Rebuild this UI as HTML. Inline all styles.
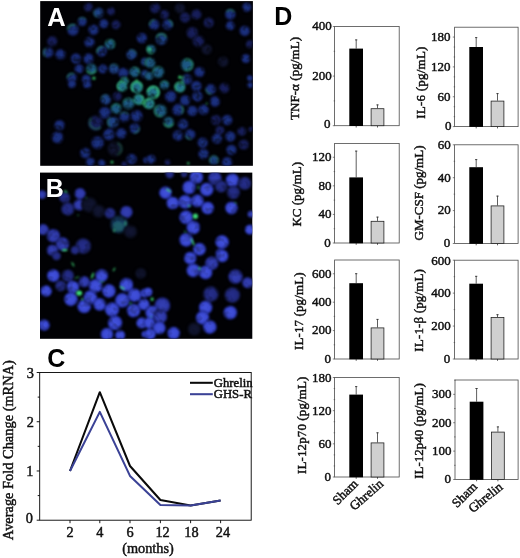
<!DOCTYPE html>
<html><head><meta charset="utf-8"><title>Figure</title>
<style>
html,body{margin:0;padding:0;background:#fff}
svg{display:block}
.t{font-family:"Liberation Serif",serif;font-size:13px;fill:#111;stroke:#111;stroke-width:0.45px}
.c{font-family:"Liberation Serif",serif;font-size:14.3px;fill:#111;stroke:#111;stroke-width:0.45px}
.l{font-family:"Liberation Serif",serif;font-size:12.7px;fill:#111;stroke:#111;stroke-width:0.5px}
</style></head><body>
<svg width="520" height="558" viewBox="0 0 520 558">
<defs><radialGradient id="gb" cx="0.5" cy="0.5" r="0.5"><stop offset="0" stop-color="#1b3482"/><stop offset="0.6" stop-color="#192c78"/><stop offset="0.85" stop-color="#10194e"/><stop offset="1" stop-color="#03040f"/></radialGradient><radialGradient id="gB" cx="0.5" cy="0.5" r="0.5"><stop offset="0" stop-color="#4252dc"/><stop offset="0.7" stop-color="#3a48d0"/><stop offset="0.92" stop-color="#1e2890"/><stop offset="1" stop-color="#0a1040"/></radialGradient><radialGradient id="gD" cx="0.5" cy="0.5" r="0.5"><stop offset="0" stop-color="#262e8c"/><stop offset="0.7" stop-color="#20287c"/><stop offset="0.92" stop-color="#10143c"/><stop offset="1" stop-color="#04050f"/></radialGradient><radialGradient id="gM" cx="0.5" cy="0.5" r="0.5"><stop offset="0" stop-color="#3440b4"/><stop offset="0.7" stop-color="#2e38a8"/><stop offset="0.92" stop-color="#181e6a"/><stop offset="1" stop-color="#060824"/></radialGradient><radialGradient id="gd" cx="0.5" cy="0.5" r="0.5"><stop offset="0" stop-color="#182060"/><stop offset="0.7" stop-color="#141a50"/><stop offset="1" stop-color="#04060f"/></radialGradient><radialGradient id="gv" cx="0.5" cy="0.5" r="0.5"><stop offset="0" stop-color="#121634"/><stop offset="0.7" stop-color="#0e122a"/><stop offset="1" stop-color="#03040a"/></radialGradient><radialGradient id="gt" cx="0.5" cy="0.5" r="0.5"><stop offset="0" stop-color="#1e5686"/><stop offset="0.6" stop-color="#1c5880"/><stop offset="0.85" stop-color="#103848"/><stop offset="1" stop-color="#030c10"/></radialGradient><radialGradient id="gm" cx="0.5" cy="0.5" r="0.5"><stop offset="0" stop-color="#173e68"/><stop offset="0.65" stop-color="#15385e"/><stop offset="0.9" stop-color="#0c2038"/><stop offset="1" stop-color="#04081a"/></radialGradient><radialGradient id="gbt" cx="0.5" cy="0.5" r="0.5"><stop offset="0" stop-color="#1e4488"/><stop offset="0.6" stop-color="#1c3e80"/><stop offset="0.85" stop-color="#101e4c"/><stop offset="1" stop-color="#03050f"/></radialGradient><radialGradient id="gT" cx="0.5" cy="0.5" r="0.5"><stop offset="0" stop-color="#226c90"/><stop offset="0.55" stop-color="#237688"/><stop offset="0.82" stop-color="#26887e"/><stop offset="1" stop-color="#041810"/></radialGradient><filter id="bl" x="0" y="0" width="100%" height="100%" color-interpolation-filters="sRGB"><feGaussianBlur stdDeviation="0.9" result="b"/><feTurbulence type="fractalNoise" baseFrequency="0.16" numOctaves="2" seed="7" result="n"/><feColorMatrix in="n" type="matrix" values="1.3 0 0 0 0.28  1.3 0 0 0 0.28  1.3 0 0 0 0.28  0 0 0 0 1" result="m"/><feComposite in="b" in2="m" operator="arithmetic" k1="1" k2="0" k3="0" k4="0"/></filter><filter id="blB" x="0" y="0" width="100%" height="100%" color-interpolation-filters="sRGB"><feGaussianBlur stdDeviation="1.0" result="b"/><feTurbulence type="fractalNoise" baseFrequency="0.13" numOctaves="2" seed="11" result="n"/><feColorMatrix in="n" type="matrix" values="0.8 0 0 0 0.58  0.8 0 0 0 0.58  0.8 0 0 0 0.58  0 0 0 0 1" result="m"/><feComposite in="b" in2="m" operator="arithmetic" k1="1" k2="0" k3="0" k4="0"/></filter><filter id="bg" x="-5%" y="-5%" width="110%" height="110%"><feGaussianBlur stdDeviation="0.8"/></filter><clipPath id="cA"><rect x="40.2" y="1.1" width="212.7" height="164.7"/></clipPath><clipPath id="cB"><rect x="40" y="172.6" width="212.3" height="166.2"/></clipPath></defs>
<rect width="520" height="558" fill="#fff"/>
<rect x="40.2" y="1.1" width="212.7" height="164.7" fill="#010104"/>
<g clip-path="url(#cA)"><g filter="url(#bl)"><circle cx="88.4" cy="7.2" r="5.2" fill="url(#gd)"/><circle cx="98.6" cy="12.8" r="5.9" fill="url(#gbt)"/><circle cx="82.2" cy="21.6" r="5.2" fill="url(#gb)"/><circle cx="72.9" cy="29.8" r="6.6" fill="url(#gb)"/><circle cx="93.5" cy="29.8" r="5.9" fill="url(#gb)"/><circle cx="103.8" cy="23.7" r="5.2" fill="url(#gb)"/><circle cx="116.1" cy="24.7" r="5.2" fill="url(#gd)"/><circle cx="111.0" cy="11.3" r="4.7" fill="url(#gd)"/><circle cx="52.3" cy="41.2" r="5.9" fill="url(#gd)"/><circle cx="48.2" cy="52.5" r="5.9" fill="url(#gb)"/><circle cx="60.6" cy="54.5" r="5.9" fill="url(#gb)"/><circle cx="89.4" cy="42.2" r="5.9" fill="url(#gb)"/><circle cx="110.0" cy="44.2" r="5.9" fill="url(#gt)"/><circle cx="101.7" cy="51.4" r="5.9" fill="url(#gb)"/><circle cx="76.0" cy="58.6" r="5.9" fill="url(#gb)"/><circle cx="88.4" cy="58.6" r="5.9" fill="url(#gb)"/><circle cx="131.6" cy="54.5" r="5.9" fill="url(#gbt)"/><circle cx="141.9" cy="38.1" r="5.9" fill="url(#gb)"/><circle cx="79.1" cy="68.9" r="5.2" fill="url(#gb)"/><circle cx="91.4" cy="68.9" r="5.9" fill="url(#gt)"/><circle cx="102.8" cy="68.9" r="5.2" fill="url(#gb)"/><circle cx="114.1" cy="68.9" r="5.9" fill="url(#gbt)"/><circle cx="71.9" cy="78.2" r="5.9" fill="url(#gb)"/><circle cx="86.3" cy="79.2" r="5.2" fill="url(#gb)"/><circle cx="123.3" cy="73.0" r="5.9" fill="url(#gb)"/><circle cx="134.7" cy="72.0" r="5.9" fill="url(#gt)"/><circle cx="144.9" cy="61.7" r="4.7" fill="url(#gbt)"/><circle cx="144.9" cy="74.1" r="4.7" fill="url(#gbt)"/><circle cx="124.4" cy="81.3" r="4.7" fill="url(#gt)"/><circle cx="155.2" cy="8.2" r="5.9" fill="url(#gd)"/><circle cx="164.5" cy="14.4" r="5.2" fill="url(#gd)"/><circle cx="154.2" cy="24.7" r="5.9" fill="url(#gb)"/><circle cx="167.6" cy="24.7" r="5.9" fill="url(#gb)"/><circle cx="161.4" cy="39.1" r="6.6" fill="url(#gbt)"/><circle cx="151.1" cy="49.4" r="5.2" fill="url(#gt)"/><circle cx="150.1" cy="62.8" r="5.9" fill="url(#gt)"/><circle cx="158.3" cy="72.0" r="6.6" fill="url(#gt)"/><circle cx="149.1" cy="76.1" r="4.7" fill="url(#gt)"/><circle cx="187.1" cy="64.8" r="7.1" fill="url(#gt)"/><circle cx="199.5" cy="72.0" r="5.9" fill="url(#gb)"/><circle cx="187.1" cy="79.2" r="5.9" fill="url(#gb)"/><circle cx="179.9" cy="8.2" r="5.9" fill="url(#gv)"/><circle cx="185.1" cy="17.5" r="5.9" fill="url(#gd)"/><circle cx="196.4" cy="14.4" r="5.9" fill="url(#gd)"/><circle cx="208.7" cy="22.6" r="5.9" fill="url(#gd)"/><circle cx="192.3" cy="32.9" r="6.6" fill="url(#gd)"/><circle cx="198.4" cy="41.2" r="6.6" fill="url(#gd)"/><circle cx="206.7" cy="49.4" r="5.9" fill="url(#gv)"/><circle cx="230.3" cy="14.4" r="5.9" fill="url(#gb)"/><circle cx="230.3" cy="25.7" r="5.2" fill="url(#gb)"/><circle cx="246.8" cy="7.2" r="5.2" fill="url(#gb)"/><circle cx="244.7" cy="30.9" r="5.9" fill="url(#gb)"/><circle cx="249.9" cy="44.2" r="4.7" fill="url(#gd)"/><circle cx="245.8" cy="58.6" r="5.2" fill="url(#gb)"/><circle cx="223.1" cy="61.7" r="5.9" fill="url(#gv)"/><circle cx="249.9" cy="78.2" r="3.5" fill="url(#gb)"/><circle cx="71.9" cy="84.0" r="4.7" fill="url(#gb)"/><circle cx="87.3" cy="84.6" r="4.7" fill="url(#gb)"/><circle cx="122.3" cy="86.1" r="5.9" fill="url(#gT)"/><circle cx="136.7" cy="87.1" r="6.6" fill="url(#gT)"/><circle cx="105.8" cy="99.5" r="5.9" fill="url(#gbt)"/><circle cx="117.2" cy="96.4" r="5.2" fill="url(#gd)"/><circle cx="128.5" cy="103.6" r="6.6" fill="url(#gt)"/><circle cx="138.8" cy="99.5" r="5.9" fill="url(#gT)"/><circle cx="146.0" cy="103.6" r="3.5" fill="url(#gT)"/><circle cx="116.1" cy="108.7" r="5.9" fill="url(#gt)"/><circle cx="104.8" cy="112.8" r="6.6" fill="url(#gb)"/><circle cx="124.4" cy="117.0" r="5.9" fill="url(#gb)"/><circle cx="136.7" cy="115.9" r="6.6" fill="url(#gb)"/><circle cx="95.6" cy="123.1" r="8.3" fill="url(#gd)"/><circle cx="113.0" cy="122.1" r="6.6" fill="url(#gbt)"/><circle cx="134.7" cy="128.3" r="5.9" fill="url(#gb)"/><circle cx="108.9" cy="134.4" r="6.6" fill="url(#gb)"/><circle cx="121.3" cy="133.4" r="5.9" fill="url(#gb)"/><circle cx="59.5" cy="125.2" r="5.9" fill="url(#gb)"/><circle cx="57.5" cy="137.5" r="6.6" fill="url(#gb)"/><circle cx="97.6" cy="142.7" r="7.1" fill="url(#gb)"/><circle cx="85.3" cy="153.0" r="5.9" fill="url(#gb)"/><circle cx="90.4" cy="162.2" r="5.2" fill="url(#gb)"/><circle cx="101.7" cy="163.2" r="4.3" fill="url(#gb)"/><circle cx="115.1" cy="148.8" r="8.3" fill="url(#gv)"/><circle cx="131.6" cy="159.1" r="5.9" fill="url(#gb)"/><circle cx="146.0" cy="160.2" r="3.5" fill="url(#gb)"/><circle cx="124.4" cy="164.3" r="3.5" fill="url(#gd)"/><circle cx="153.2" cy="92.3" r="7.1" fill="url(#gT)"/><circle cx="149.1" cy="103.6" r="5.9" fill="url(#gT)"/><circle cx="164.5" cy="85.1" r="5.2" fill="url(#gt)"/><circle cx="179.9" cy="87.1" r="5.9" fill="url(#gT)"/><circle cx="170.7" cy="96.4" r="6.6" fill="url(#gb)"/><circle cx="185.1" cy="100.5" r="5.9" fill="url(#gb)"/><circle cx="196.4" cy="86.1" r="5.9" fill="url(#gb)"/><circle cx="197.4" cy="96.4" r="5.9" fill="url(#gb)"/><circle cx="210.8" cy="89.2" r="5.9" fill="url(#gb)"/><circle cx="224.2" cy="88.1" r="5.9" fill="url(#gd)"/><circle cx="214.9" cy="101.5" r="5.9" fill="url(#gb)"/><circle cx="160.4" cy="110.8" r="7.1" fill="url(#gt)"/><circle cx="177.9" cy="109.7" r="6.6" fill="url(#gb)"/><circle cx="192.3" cy="110.8" r="5.9" fill="url(#gb)"/><circle cx="203.6" cy="109.7" r="5.9" fill="url(#gb)"/><circle cx="168.6" cy="122.1" r="5.9" fill="url(#gt)"/><circle cx="183.0" cy="124.2" r="5.9" fill="url(#gb)"/><circle cx="215.9" cy="120.0" r="5.9" fill="url(#gd)"/><circle cx="227.2" cy="120.0" r="5.9" fill="url(#gb)"/><circle cx="220.0" cy="130.3" r="5.2" fill="url(#gd)"/><circle cx="177.9" cy="135.5" r="5.9" fill="url(#gb)"/><circle cx="190.2" cy="134.4" r="5.9" fill="url(#gb)"/><circle cx="202.6" cy="142.7" r="5.9" fill="url(#gb)"/><circle cx="217.0" cy="138.6" r="5.9" fill="url(#gb)"/><circle cx="230.3" cy="136.5" r="5.9" fill="url(#gb)"/><circle cx="241.7" cy="131.4" r="5.2" fill="url(#gd)"/><circle cx="243.7" cy="144.7" r="5.9" fill="url(#gd)"/><circle cx="231.4" cy="149.9" r="5.9" fill="url(#gb)"/><circle cx="203.6" cy="154.0" r="5.9" fill="url(#gb)"/><circle cx="213.9" cy="160.2" r="5.2" fill="url(#gbt)"/><circle cx="227.2" cy="162.2" r="5.9" fill="url(#gb)"/><circle cx="151.1" cy="159.1" r="5.2" fill="url(#gb)"/><circle cx="167.6" cy="162.2" r="3.5" fill="url(#gd)"/><circle cx="249.9" cy="85.1" r="3.5" fill="url(#gb)"/><circle cx="250.9" cy="129.3" r="2.9" fill="url(#gd)"/></g><g filter="url(#bg)"><path d="M67.8 28.9A5.2 5.2 0 0 1 74.7 25.0" fill="none" stroke="#3fe07a" stroke-width="1.7" stroke-linecap="round" opacity="0.41"/><path d="M79.1 19.0A4.1 4.1 0 0 1 85.3 19.0" fill="none" stroke="#3fe07a" stroke-width="1.4" stroke-linecap="round" opacity="0.35"/><path d="M45.3 56.0A4.6 4.6 0 0 1 45.3 48.9" fill="none" stroke="#3fe07a" stroke-width="1.5" stroke-linecap="round" opacity="0.35"/><path d="M97.2 52.2A4.6 4.6 0 0 1 102.5 46.9" fill="none" stroke="#3fe07a" stroke-width="1.5" stroke-linecap="round" opacity="0.49"/><path d="M105.6 42.7A4.6 4.6 0 1 1 113.5 47.2" fill="none" stroke="#3fe07a" stroke-width="1.5" stroke-linecap="round" opacity="0.23"/><path d="M95.6 70.9A4.6 4.6 0 0 1 87.3 70.9" fill="none" stroke="#3fe07a" stroke-width="1.5" stroke-linecap="round" opacity="0.52"/><path d="M67.3 77.4A4.6 4.6 0 0 1 73.5 73.9" fill="none" stroke="#3fe07a" stroke-width="1.5" stroke-linecap="round" opacity="0.41"/><path d="M120.7 81.9A3.7 3.7 0 1 1 128.0 81.9" fill="none" stroke="#3fe07a" stroke-width="1.2" stroke-linecap="round" opacity="0.46"/><path d="M133.5 67.6A4.6 4.6 0 0 1 139.1 73.2" fill="none" stroke="#3fe07a" stroke-width="1.5" stroke-linecap="round" opacity="0.29"/><path d="M96.7 16.9A4.6 4.6 0 0 1 94.5 10.8" fill="none" stroke="#3fe07a" stroke-width="1.5" stroke-linecap="round" opacity="0.23"/><path d="M130.0 50.2A4.6 4.6 0 0 1 136.1 53.7" fill="none" stroke="#3fe07a" stroke-width="1.5" stroke-linecap="round" opacity="0.23"/><path d="M110.5 66.0A4.6 4.6 0 0 1 117.6 66.0" fill="none" stroke="#3fe07a" stroke-width="1.5" stroke-linecap="round" opacity="0.23"/><path d="M149.6 24.7A4.6 4.6 0 0 1 154.2 20.1" fill="none" stroke="#3fe07a" stroke-width="1.5" stroke-linecap="round" opacity="0.41"/><path d="M168.8 20.2A4.6 4.6 0 0 1 172.0 25.9" fill="none" stroke="#3fe07a" stroke-width="1.5" stroke-linecap="round" opacity="0.43"/><path d="M156.7 36.9A5.2 5.2 0 0 1 166.1 36.9" fill="none" stroke="#3fe07a" stroke-width="1.7" stroke-linecap="round" opacity="0.41"/><path d="M152.5 53.2A4.1 4.1 0 0 1 148.5 46.3" fill="none" stroke="#3fe07a" stroke-width="1.4" stroke-linecap="round" opacity="0.52"/><path d="M146.1 65.1A4.6 4.6 0 0 1 150.1 58.1" fill="none" stroke="#3fe07a" stroke-width="1.5" stroke-linecap="round" opacity="0.29"/><path d="M185.2 59.6A5.5 5.5 0 1 1 185.2 70.0" fill="none" stroke="#3fe07a" stroke-width="1.9" stroke-linecap="round" opacity="0.35"/><path d="M183.6 82.2A4.6 4.6 0 0 1 183.6 76.3" fill="none" stroke="#3fe07a" stroke-width="1.5" stroke-linecap="round" opacity="0.52"/><path d="M226.8 11.4A4.6 4.6 0 0 1 233.9 11.4" fill="none" stroke="#3fe07a" stroke-width="1.5" stroke-linecap="round" opacity="0.41"/><path d="M153.1 72.0A5.2 5.2 0 0 1 160.9 67.5" fill="none" stroke="#3fe07a" stroke-width="1.7" stroke-linecap="round" opacity="0.23"/><path d="M119.3 89.6A4.6 4.6 0 0 1 123.9 81.8" fill="none" stroke="#3fe07a" stroke-width="1.5" stroke-linecap="round" opacity="0.49"/><path d="M133.4 91.1A5.2 5.2 0 1 1 141.8 86.2" fill="none" stroke="#3fe07a" stroke-width="1.7" stroke-linecap="round" opacity="0.52"/><path d="M141.1 95.5A4.6 4.6 0 0 1 141.1 103.5" fill="none" stroke="#3fe07a" stroke-width="1.5" stroke-linecap="round" opacity="0.46"/><path d="M143.5 104.7A2.8 2.8 0 0 1 147.1 101.1" fill="none" stroke="#3fe07a" stroke-width="1.2" stroke-linecap="round" opacity="0.49"/><path d="M100.1 127.7A6.5 6.5 0 0 1 91.0 118.6" fill="none" stroke="#3fe07a" stroke-width="2.2" stroke-linecap="round" opacity="0.26"/><path d="M120.8 114.0A4.6 4.6 0 0 1 127.9 114.0" fill="none" stroke="#3fe07a" stroke-width="1.5" stroke-linecap="round" opacity="0.29"/><path d="M139.2 127.9A4.6 4.6 0 0 1 134.2 132.9" fill="none" stroke="#3fe07a" stroke-width="1.5" stroke-linecap="round" opacity="0.35"/><path d="M118.3 143.2A6.5 6.5 0 0 1 118.3 154.4" fill="none" stroke="#3fe07a" stroke-width="2.2" stroke-linecap="round" opacity="0.20"/><path d="M123.6 101.8A5.2 5.2 0 0 1 133.3 101.8" fill="none" stroke="#3fe07a" stroke-width="1.7" stroke-linecap="round" opacity="0.23"/><path d="M111.8 107.1A4.6 4.6 0 0 1 120.5 107.1" fill="none" stroke="#3fe07a" stroke-width="1.5" stroke-linecap="round" opacity="0.26"/><path d="M101.3 98.7A4.6 4.6 0 0 1 107.4 95.1" fill="none" stroke="#3fe07a" stroke-width="1.5" stroke-linecap="round" opacity="0.20"/><path d="M109.7 126.1A5.2 5.2 0 0 1 109.7 118.1" fill="none" stroke="#3fe07a" stroke-width="1.7" stroke-linecap="round" opacity="0.29"/><path d="M147.8 90.8A5.5 5.5 0 1 1 154.6 97.6" fill="none" stroke="#3fe07a" stroke-width="1.9" stroke-linecap="round" opacity="0.55"/><path d="M145.8 106.8A4.6 4.6 0 0 1 150.3 99.1" fill="none" stroke="#3fe07a" stroke-width="1.5" stroke-linecap="round" opacity="0.52"/><path d="M175.9 89.4A4.6 4.6 0 0 1 182.2 83.1" fill="none" stroke="#3fe07a" stroke-width="1.5" stroke-linecap="round" opacity="0.46"/><path d="M161.3 116.2A5.5 5.5 0 0 1 157.6 106.0" fill="none" stroke="#3fe07a" stroke-width="1.9" stroke-linecap="round" opacity="0.32"/><path d="M172.9 123.7A4.6 4.6 0 0 1 164.3 123.7" fill="none" stroke="#3fe07a" stroke-width="1.5" stroke-linecap="round" opacity="0.49"/><path d="M181.8 106.4A5.2 5.2 0 0 1 181.8 113.1" fill="none" stroke="#3fe07a" stroke-width="1.7" stroke-linecap="round" opacity="0.41"/><path d="M210.8 93.8A4.6 4.6 0 0 1 206.2 89.2" fill="none" stroke="#3fe07a" stroke-width="1.5" stroke-linecap="round" opacity="0.41"/><path d="M191.0 139.0A4.6 4.6 0 0 1 185.9 136.0" fill="none" stroke="#3fe07a" stroke-width="1.5" stroke-linecap="round" opacity="0.35"/><path d="M210.5 162.5A4.1 4.1 0 1 1 217.2 162.5" fill="none" stroke="#3fe07a" stroke-width="1.4" stroke-linecap="round" opacity="0.32"/><path d="M160.7 83.7A4.1 4.1 0 0 1 168.3 83.7" fill="none" stroke="#3fe07a" stroke-width="1.4" stroke-linecap="round" opacity="0.29"/><circle cx="93.9" cy="78.2" r="1.6" fill="#3fe07a" opacity="0.8"/><circle cx="136.7" cy="80.7" r="1.4" fill="#3fe07a" opacity="0.6"/><circle cx="179.9" cy="77.2" r="1.6" fill="#3fe07a" opacity="0.9"/><circle cx="150.1" cy="49.4" r="1.6" fill="#3fe07a" opacity="0.8"/><circle cx="112.0" cy="162.2" r="1.4" fill="#3fe07a" opacity="0.8"/><circle cx="188.2" cy="163.2" r="1.2" fill="#3fe07a" opacity="0.8"/><circle cx="206.7" cy="103.6" r="1.0" fill="#3fe07a" opacity="0.6"/></g></g>
<rect x="40" y="172.6" width="212.3" height="166.2" fill="#010104"/>
<g clip-path="url(#cB)"><g filter="url(#blB)"><circle cx="42.1" cy="194.6" r="4.8" fill="url(#gM)"/><circle cx="80.1" cy="193.6" r="6.0" fill="url(#gM)"/><circle cx="64.7" cy="197.7" r="6.0" fill="url(#gD)"/><circle cx="79.1" cy="204.9" r="6.0" fill="url(#gM)"/><circle cx="67.8" cy="209.0" r="7.2" fill="url(#gD)"/><circle cx="89.4" cy="204.9" r="8.4" fill="url(#gv)"/><circle cx="98.6" cy="211.1" r="7.2" fill="url(#gv)"/><circle cx="110.0" cy="213.2" r="6.0" fill="url(#gD)"/><circle cx="126.4" cy="212.1" r="6.7" fill="url(#gM)"/><circle cx="119.2" cy="224.5" r="9.5" fill="url(#gm)"/><circle cx="130.5" cy="231.7" r="7.2" fill="url(#gv)"/><circle cx="43.1" cy="229.6" r="6.0" fill="url(#gM)"/><circle cx="53.4" cy="235.8" r="7.2" fill="url(#gM)"/><circle cx="62.6" cy="244.0" r="7.2" fill="url(#gM)"/><circle cx="52.3" cy="250.2" r="6.0" fill="url(#gM)"/><circle cx="83.2" cy="246.1" r="8.4" fill="url(#gD)"/><circle cx="75.0" cy="250.2" r="4.8" fill="url(#gD)"/><circle cx="196.4" cy="177.1" r="7.2" fill="url(#gB)"/><circle cx="214.9" cy="178.2" r="7.2" fill="url(#gM)"/><circle cx="232.4" cy="180.2" r="7.2" fill="url(#gB)"/><circle cx="244.7" cy="183.3" r="7.2" fill="url(#gD)"/><circle cx="189.2" cy="187.4" r="7.2" fill="url(#gB)"/><circle cx="206.7" cy="189.5" r="7.2" fill="url(#gB)"/><circle cx="221.1" cy="186.4" r="6.7" fill="url(#gD)"/><circle cx="233.4" cy="192.6" r="7.2" fill="url(#gD)"/><circle cx="165.5" cy="192.6" r="6.7" fill="url(#gB)"/><circle cx="172.7" cy="202.9" r="6.7" fill="url(#gB)"/><circle cx="185.1" cy="201.8" r="7.2" fill="url(#gB)"/><circle cx="197.4" cy="200.8" r="6.7" fill="url(#gB)"/><circle cx="207.7" cy="208.0" r="6.7" fill="url(#gB)"/><circle cx="231.4" cy="208.0" r="6.7" fill="url(#gB)"/><circle cx="186.1" cy="217.3" r="7.2" fill="url(#gB)"/><circle cx="193.3" cy="227.6" r="7.2" fill="url(#gB)"/><circle cx="186.1" cy="239.9" r="7.2" fill="url(#gB)"/><circle cx="199.5" cy="249.2" r="6.7" fill="url(#gB)"/><circle cx="222.1" cy="242.0" r="7.2" fill="url(#gB)"/><circle cx="220.0" cy="253.3" r="4.8" fill="url(#gB)"/><circle cx="249.9" cy="229.6" r="5.3" fill="url(#gB)"/><circle cx="250.9" cy="214.2" r="3.6" fill="url(#gB)"/><circle cx="169.6" cy="174.1" r="4.8" fill="url(#gD)"/><circle cx="184.0" cy="174.1" r="3.6" fill="url(#gD)"/><circle cx="53.4" cy="275.6" r="6.7" fill="url(#gB)"/><circle cx="46.2" cy="291.0" r="6.0" fill="url(#gB)"/><circle cx="67.8" cy="275.6" r="6.7" fill="url(#gD)"/><circle cx="60.6" cy="285.9" r="6.0" fill="url(#gD)"/><circle cx="72.9" cy="286.9" r="6.7" fill="url(#gB)"/><circle cx="70.9" cy="299.2" r="7.2" fill="url(#gB)"/><circle cx="84.2" cy="306.4" r="7.2" fill="url(#gB)"/><circle cx="90.4" cy="297.2" r="7.2" fill="url(#gB)"/><circle cx="95.6" cy="285.9" r="7.2" fill="url(#gB)"/><circle cx="101.7" cy="275.6" r="6.7" fill="url(#gB)"/><circle cx="84.2" cy="281.7" r="6.0" fill="url(#gM)"/><circle cx="99.7" cy="304.4" r="6.7" fill="url(#gB)"/><circle cx="108.9" cy="291.0" r="7.2" fill="url(#gB)"/><circle cx="112.0" cy="309.5" r="7.6" fill="url(#gB)"/><circle cx="122.3" cy="300.3" r="7.6" fill="url(#gB)"/><circle cx="126.4" cy="284.8" r="7.2" fill="url(#gB)"/><circle cx="134.7" cy="295.1" r="7.2" fill="url(#gB)"/><circle cx="133.6" cy="310.6" r="7.2" fill="url(#gB)"/><circle cx="144.9" cy="293.1" r="4.8" fill="url(#gB)"/><circle cx="143.9" cy="304.4" r="6.0" fill="url(#gB)"/><circle cx="115.1" cy="322.9" r="7.6" fill="url(#gB)"/><circle cx="106.9" cy="334.2" r="6.7" fill="url(#gB)"/><circle cx="120.2" cy="335.2" r="5.3" fill="url(#gB)"/><circle cx="44.1" cy="325.0" r="6.0" fill="url(#gB)"/><circle cx="141.9" cy="322.9" r="6.0" fill="url(#gB)"/><circle cx="144.9" cy="334.2" r="3.6" fill="url(#gB)"/><circle cx="56.5" cy="256.0" r="4.8" fill="url(#gD)"/><circle cx="140.8" cy="273.5" r="6.0" fill="url(#gv)"/><circle cx="190.2" cy="258.1" r="6.7" fill="url(#gB)"/><circle cx="222.1" cy="256.0" r="6.7" fill="url(#gB)"/><circle cx="211.8" cy="263.2" r="7.2" fill="url(#gM)"/><circle cx="193.3" cy="270.4" r="7.2" fill="url(#gB)"/><circle cx="205.6" cy="272.5" r="7.2" fill="url(#gB)"/><circle cx="235.5" cy="276.6" r="7.6" fill="url(#gM)"/><circle cx="247.8" cy="282.8" r="6.0" fill="url(#gM)"/><circle cx="210.8" cy="294.1" r="8.4" fill="url(#gD)"/><circle cx="232.4" cy="295.1" r="8.4" fill="url(#gD)"/><circle cx="205.6" cy="307.5" r="7.2" fill="url(#gB)"/><circle cx="230.3" cy="312.6" r="7.2" fill="url(#gB)"/><circle cx="202.6" cy="317.8" r="7.2" fill="url(#gB)"/><circle cx="209.8" cy="327.0" r="7.2" fill="url(#gB)"/><circle cx="148.0" cy="292.0" r="4.8" fill="url(#gB)"/><circle cx="162.4" cy="305.4" r="8.4" fill="url(#gM)"/><circle cx="152.1" cy="312.6" r="7.2" fill="url(#gB)"/><circle cx="160.4" cy="316.7" r="7.2" fill="url(#gM)"/><circle cx="149.1" cy="322.9" r="6.0" fill="url(#gB)"/><circle cx="159.3" cy="328.0" r="6.7" fill="url(#gB)"/><circle cx="173.7" cy="333.2" r="6.7" fill="url(#gB)"/><circle cx="150.1" cy="334.2" r="6.0" fill="url(#gB)"/><circle cx="194.3" cy="329.1" r="7.2" fill="url(#gv)"/></g><g filter="url(#bg)"><ellipse cx="65.7" cy="191.5" rx="1.9" ry="0.9" transform="rotate(20 65.7 191.5)" fill="#3fe07a" opacity="0.9"/><ellipse cx="64.7" cy="250.2" rx="3.0" ry="1.1" transform="rotate(0 64.7 250.2)" fill="#3fe07a" opacity="0.9"/><ellipse cx="118.2" cy="226.5" rx="5.6" ry="5.2" transform="rotate(0 118.2 226.5)" fill="#3fe07a" opacity="0.18"/><ellipse cx="125.4" cy="223.4" rx="0.9" ry="2.6" transform="rotate(0 125.4 223.4)" fill="#3fe07a" opacity="0.6"/><ellipse cx="114.1" cy="230.6" rx="1.1" ry="1.9" transform="rotate(0 114.1 230.6)" fill="#3fe07a" opacity="0.5"/><ellipse cx="86.3" cy="197.7" rx="0.8" ry="0.8" transform="rotate(0 86.3 197.7)" fill="#3fe07a" opacity="0.6"/><ellipse cx="78.1" cy="215.2" rx="0.8" ry="0.8" transform="rotate(0 78.1 215.2)" fill="#3fe07a" opacity="0.6"/><ellipse cx="195.4" cy="216.2" rx="2.6" ry="2.6" transform="rotate(0 195.4 216.2)" fill="#3fe07a" opacity="0.95"/><ellipse cx="168.6" cy="190.5" rx="3.0" ry="0.9" transform="rotate(30 168.6 190.5)" fill="#3fe07a" opacity="0.9"/><ellipse cx="192.7" cy="242.0" rx="0.9" ry="4.1" transform="rotate(-25 192.7 242.0)" fill="#3fe07a" opacity="0.85"/><ellipse cx="198.4" cy="187.4" rx="0.9" ry="2.2" transform="rotate(0 198.4 187.4)" fill="#3fe07a" opacity="0.5"/><ellipse cx="189.2" cy="206.0" rx="1.9" ry="0.9" transform="rotate(0 189.2 206.0)" fill="#3fe07a" opacity="0.6"/><ellipse cx="235.5" cy="202.9" rx="1.5" ry="0.8" transform="rotate(30 235.5 202.9)" fill="#3fe07a" opacity="0.5"/><ellipse cx="185.1" cy="231.7" rx="1.5" ry="0.8" transform="rotate(40 185.1 231.7)" fill="#3fe07a" opacity="0.5"/><ellipse cx="79.1" cy="293.1" rx="3.0" ry="2.6" transform="rotate(0 79.1 293.1)" fill="#3fe07a" opacity="0.95"/><ellipse cx="82.2" cy="299.2" rx="1.1" ry="1.1" transform="rotate(0 82.2 299.2)" fill="#3fe07a" opacity="0.8"/><ellipse cx="92.5" cy="275.6" rx="1.1" ry="3.3" transform="rotate(20 92.5 275.6)" fill="#3fe07a" opacity="0.8"/><ellipse cx="122.3" cy="287.9" rx="3.0" ry="1.1" transform="rotate(30 122.3 287.9)" fill="#3fe07a" opacity="0.8"/><ellipse cx="72.9" cy="264.3" rx="0.9" ry="2.6" transform="rotate(-30 72.9 264.3)" fill="#3fe07a" opacity="0.7"/><ellipse cx="114.1" cy="269.4" rx="0.9" ry="2.2" transform="rotate(30 114.1 269.4)" fill="#3fe07a" opacity="0.7"/><ellipse cx="77.0" cy="277.6" rx="2.6" ry="0.8" transform="rotate(-20 77.0 277.6)" fill="#3fe07a" opacity="0.5"/><ellipse cx="101.7" cy="281.7" rx="2.6" ry="0.9" transform="rotate(0 101.7 281.7)" fill="#3fe07a" opacity="0.4"/><ellipse cx="130.5" cy="303.4" rx="1.5" ry="1.1" transform="rotate(0 130.5 303.4)" fill="#3fe07a" opacity="0.5"/><ellipse cx="152.1" cy="299.2" rx="1.5" ry="1.9" transform="rotate(0 152.1 299.2)" fill="#3fe07a" opacity="0.8"/><ellipse cx="199.5" cy="268.4" rx="1.1" ry="1.9" transform="rotate(0 199.5 268.4)" fill="#3fe07a" opacity="0.7"/><ellipse cx="151.1" cy="316.7" rx="0.9" ry="1.5" transform="rotate(0 151.1 316.7)" fill="#3fe07a" opacity="0.4"/></g></g>
<text x="47.2" y="25.9" style="font-family:'Liberation Sans',sans-serif;font-weight:bold;font-size:25.5px" fill="#fff">A</text>
<text x="45.7" y="196.7" style="font-family:'Liberation Sans',sans-serif;font-weight:bold;font-size:25px" fill="#fff">B</text>
<text x="47.2" y="367" style="font-family:'Liberation Sans',sans-serif;font-weight:bold;font-size:25px" fill="#000">C</text>
<text x="274.2" y="25.4" style="font-family:'Liberation Sans',sans-serif;font-weight:bold;font-size:25px" fill="#000">D</text>
<rect x="39.7" y="372.5" width="211.5" height="147.70000000000005" fill="#fff" stroke="#000" stroke-width="0.9"/>
<line x1="36.7" y1="520.20" x2="39.7" y2="520.20" stroke="#000" stroke-width="0.9"/>
<line x1="37.7" y1="495.58" x2="39.7" y2="495.58" stroke="#000" stroke-width="0.9"/>
<line x1="36.7" y1="470.97" x2="39.7" y2="470.97" stroke="#000" stroke-width="0.9"/>
<line x1="37.7" y1="446.35" x2="39.7" y2="446.35" stroke="#000" stroke-width="0.9"/>
<line x1="36.7" y1="421.73" x2="39.7" y2="421.73" stroke="#000" stroke-width="0.9"/>
<line x1="37.7" y1="397.12" x2="39.7" y2="397.12" stroke="#000" stroke-width="0.9"/>
<line x1="36.7" y1="372.50" x2="39.7" y2="372.50" stroke="#000" stroke-width="0.9"/>
<text x="33.0" y="523.4" text-anchor="end" class="c">0</text>
<text x="33.4" y="476.0" text-anchor="end" class="c">1</text>
<text x="34.0" y="426.7" text-anchor="end" class="c">2</text>
<text x="34.0" y="377.5" text-anchor="end" class="c">3</text>
<line x1="70" y1="520.2" x2="70" y2="523.2" stroke="#000" stroke-width="0.9"/>
<text x="70" y="537.4" text-anchor="middle" class="c">2</text>
<line x1="99.8" y1="520.2" x2="99.8" y2="523.2" stroke="#000" stroke-width="0.9"/>
<text x="99.8" y="537.4" text-anchor="middle" class="c">4</text>
<line x1="130" y1="520.2" x2="130" y2="523.2" stroke="#000" stroke-width="0.9"/>
<text x="130" y="537.4" text-anchor="middle" class="c">6</text>
<line x1="160.4" y1="520.2" x2="160.4" y2="523.2" stroke="#000" stroke-width="0.9"/>
<text x="162.6" y="537.4" text-anchor="middle" class="c">12</text>
<line x1="190.6" y1="520.2" x2="190.6" y2="523.2" stroke="#000" stroke-width="0.9"/>
<text x="191.5" y="537.4" text-anchor="middle" class="c">18</text>
<line x1="220.6" y1="520.2" x2="220.6" y2="523.2" stroke="#000" stroke-width="0.9"/>
<text x="222.9" y="537.4" text-anchor="middle" class="c">24</text>
<text x="148" y="553" text-anchor="middle" class="c">(months)</text>
<text transform="translate(12.9 450.2) rotate(-90)" text-anchor="middle" class="c" style="font-size:14.4px">Average Fold Change (mRNA)</text>
<polyline fill="none" stroke="#0a0a0a" stroke-width="2.05" stroke-linejoin="round" points="70.0,471.0 99.8,392.2 130.0,466.0 160.4,500.0 190.6,505.4 220.6,500.5"/>
<polyline fill="none" stroke="#3b4296" stroke-width="2.05" stroke-linejoin="round" points="70.0,471.0 99.8,411.9 130.0,475.9 160.4,504.9 190.6,505.4 220.6,500.5"/>
<line x1="190" y1="382.8" x2="212.8" y2="382.8" stroke="#0a0a0a" stroke-width="2.05"/>
<line x1="190" y1="394.2" x2="212.8" y2="394.2" stroke="#3b4296" stroke-width="2.05"/>
<text x="213.8" y="386.8" class="l">Ghrelin</text>
<text x="213.8" y="398.2" class="l">GHS-R</text>
<rect x="334.6" y="26.5" width="64.6" height="99.2" fill="#fff" stroke="#4a4a4a" stroke-width="0.8"/>
<line x1="332.8" y1="125.70" x2="334.6" y2="125.70" stroke="#4a4a4a" stroke-width="0.7"/>
<line x1="333.70000000000005" y1="100.90" x2="335.1" y2="100.90" stroke="#4a4a4a" stroke-width="0.7"/>
<line x1="332.8" y1="76.10" x2="334.6" y2="76.10" stroke="#4a4a4a" stroke-width="0.7"/>
<line x1="333.70000000000005" y1="51.30" x2="335.1" y2="51.30" stroke="#4a4a4a" stroke-width="0.7"/>
<line x1="332.8" y1="26.50" x2="334.6" y2="26.50" stroke="#4a4a4a" stroke-width="0.7"/>
<text x="330.5" y="127.5" text-anchor="end" class="t">0</text>
<text x="331.8" y="79.9" text-anchor="end" class="t">200</text>
<text x="331.8" y="30.3" text-anchor="end" class="t">400</text>
<line x1="356.2" y1="48.6" x2="356.2" y2="39.6" stroke="#333" stroke-width="0.8"/>
<line x1="355.1" y1="39.9" x2="357.3" y2="39.9" stroke="#333" stroke-width="0.9"/>
<line x1="356.2" y1="125.7" x2="356.2" y2="127.5" stroke="#333" stroke-width="0.8"/>
<line x1="377.5" y1="108.3" x2="377.5" y2="104.6" stroke="#333" stroke-width="0.8"/>
<line x1="376.4" y1="104.9" x2="378.6" y2="104.9" stroke="#333" stroke-width="0.9"/>
<line x1="377.5" y1="125.7" x2="377.5" y2="127.5" stroke="#333" stroke-width="0.8"/>
<rect x="349.3" y="48.6" width="13.7" height="77.4" fill="#000"/>
<rect x="371.1" y="108.7" width="12.8" height="17.0" fill="#d0d0d0" stroke="#222" stroke-width="0.8"/>
<text transform="translate(298.5 78.5) rotate(-90)" text-anchor="middle" class="t" textLength="83.2" lengthAdjust="spacing">TNF-α (pg/mL)</text>
<rect x="454.6" y="27.2" width="63.5" height="99.4" fill="#fff" stroke="#4a4a4a" stroke-width="0.8"/>
<line x1="452.8" y1="126.60" x2="454.6" y2="126.60" stroke="#4a4a4a" stroke-width="0.7"/>
<line x1="453.70000000000005" y1="116.65" x2="455.1" y2="116.65" stroke="#4a4a4a" stroke-width="0.7"/>
<line x1="453.70000000000005" y1="106.70" x2="455.1" y2="106.70" stroke="#4a4a4a" stroke-width="0.7"/>
<line x1="452.8" y1="96.75" x2="454.6" y2="96.75" stroke="#4a4a4a" stroke-width="0.7"/>
<line x1="453.70000000000005" y1="86.80" x2="455.1" y2="86.80" stroke="#4a4a4a" stroke-width="0.7"/>
<line x1="453.70000000000005" y1="76.85" x2="455.1" y2="76.85" stroke="#4a4a4a" stroke-width="0.7"/>
<line x1="452.8" y1="66.90" x2="454.6" y2="66.90" stroke="#4a4a4a" stroke-width="0.7"/>
<line x1="453.70000000000005" y1="56.95" x2="455.1" y2="56.95" stroke="#4a4a4a" stroke-width="0.7"/>
<line x1="453.70000000000005" y1="47.00" x2="455.1" y2="47.00" stroke="#4a4a4a" stroke-width="0.7"/>
<line x1="452.8" y1="37.05" x2="454.6" y2="37.05" stroke="#4a4a4a" stroke-width="0.7"/>
<text x="451.4" y="130.4" text-anchor="end" class="t">0</text>
<text x="450.4" y="100.6" text-anchor="end" class="t">60</text>
<text x="450.4" y="70.7" text-anchor="end" class="t">120</text>
<text x="450.4" y="40.9" text-anchor="end" class="t">180</text>
<line x1="476.2" y1="47.0" x2="476.2" y2="37.3" stroke="#333" stroke-width="0.8"/>
<line x1="475.1" y1="37.6" x2="477.3" y2="37.6" stroke="#333" stroke-width="0.9"/>
<line x1="476.2" y1="126.6" x2="476.2" y2="128.4" stroke="#333" stroke-width="0.8"/>
<line x1="497.5" y1="100.7" x2="497.5" y2="93.3" stroke="#333" stroke-width="0.8"/>
<line x1="496.4" y1="93.6" x2="498.6" y2="93.6" stroke="#333" stroke-width="0.9"/>
<line x1="497.5" y1="126.6" x2="497.5" y2="128.4" stroke="#333" stroke-width="0.8"/>
<rect x="469.3" y="47.0" width="13.7" height="79.9" fill="#000"/>
<rect x="491.1" y="101.1" width="12.8" height="25.5" fill="#d0d0d0" stroke="#222" stroke-width="0.8"/>
<text transform="translate(424.8 82.7) rotate(-90)" text-anchor="middle" class="t" textLength="72.3" lengthAdjust="spacing">IL-6 (pg/mL)</text>
<rect x="334.6" y="143.4" width="64.6" height="99.6" fill="#fff" stroke="#4a4a4a" stroke-width="0.8"/>
<line x1="332.8" y1="243.00" x2="334.6" y2="243.00" stroke="#4a4a4a" stroke-width="0.7"/>
<line x1="333.70000000000005" y1="228.71" x2="335.1" y2="228.71" stroke="#4a4a4a" stroke-width="0.7"/>
<line x1="332.8" y1="214.42" x2="334.6" y2="214.42" stroke="#4a4a4a" stroke-width="0.7"/>
<line x1="333.70000000000005" y1="200.13" x2="335.1" y2="200.13" stroke="#4a4a4a" stroke-width="0.7"/>
<line x1="332.8" y1="185.84" x2="334.6" y2="185.84" stroke="#4a4a4a" stroke-width="0.7"/>
<line x1="333.70000000000005" y1="171.55" x2="335.1" y2="171.55" stroke="#4a4a4a" stroke-width="0.7"/>
<line x1="332.8" y1="157.26" x2="334.6" y2="157.26" stroke="#4a4a4a" stroke-width="0.7"/>
<text x="330.8" y="246.8" text-anchor="end" class="t">0</text>
<text x="331.4" y="218.2" text-anchor="end" class="t">40</text>
<text x="331.4" y="189.6" text-anchor="end" class="t">80</text>
<text x="331.4" y="161.1" text-anchor="end" class="t">120</text>
<line x1="356.2" y1="177.4" x2="356.2" y2="150.8" stroke="#333" stroke-width="0.8"/>
<line x1="355.1" y1="151.1" x2="357.3" y2="151.1" stroke="#333" stroke-width="0.9"/>
<line x1="356.2" y1="243" x2="356.2" y2="244.8" stroke="#333" stroke-width="0.8"/>
<line x1="377.5" y1="220.9" x2="377.5" y2="216.8" stroke="#333" stroke-width="0.8"/>
<line x1="376.4" y1="217.1" x2="378.6" y2="217.1" stroke="#333" stroke-width="0.9"/>
<line x1="377.5" y1="243" x2="377.5" y2="244.8" stroke="#333" stroke-width="0.8"/>
<rect x="349.3" y="177.4" width="13.7" height="65.9" fill="#000"/>
<rect x="371.1" y="221.3" width="12.8" height="21.7" fill="#d0d0d0" stroke="#222" stroke-width="0.8"/>
<text transform="translate(300.5 194.3) rotate(-90)" text-anchor="middle" class="t">KC (pg/mL)</text>
<rect x="454.6" y="144.8" width="63.5" height="98.7" fill="#fff" stroke="#4a4a4a" stroke-width="0.8"/>
<line x1="452.8" y1="243.50" x2="454.6" y2="243.50" stroke="#4a4a4a" stroke-width="0.7"/>
<line x1="453.70000000000005" y1="227.05" x2="455.1" y2="227.05" stroke="#4a4a4a" stroke-width="0.7"/>
<line x1="452.8" y1="210.60" x2="454.6" y2="210.60" stroke="#4a4a4a" stroke-width="0.7"/>
<line x1="453.70000000000005" y1="194.15" x2="455.1" y2="194.15" stroke="#4a4a4a" stroke-width="0.7"/>
<line x1="452.8" y1="177.70" x2="454.6" y2="177.70" stroke="#4a4a4a" stroke-width="0.7"/>
<line x1="453.70000000000005" y1="161.25" x2="455.1" y2="161.25" stroke="#4a4a4a" stroke-width="0.7"/>
<line x1="452.8" y1="144.80" x2="454.6" y2="144.80" stroke="#4a4a4a" stroke-width="0.7"/>
<text x="450.3" y="247.3" text-anchor="end" class="t">0</text>
<text x="450.8" y="214.4" text-anchor="end" class="t">20</text>
<text x="450.8" y="181.5" text-anchor="end" class="t">40</text>
<text x="450.8" y="148.7" text-anchor="end" class="t">60</text>
<line x1="476.2" y1="167.2" x2="476.2" y2="159.3" stroke="#333" stroke-width="0.8"/>
<line x1="475.1" y1="159.6" x2="477.3" y2="159.6" stroke="#333" stroke-width="0.9"/>
<line x1="476.2" y1="243.5" x2="476.2" y2="245.3" stroke="#333" stroke-width="0.8"/>
<line x1="497.5" y1="205.5" x2="497.5" y2="195.8" stroke="#333" stroke-width="0.8"/>
<line x1="496.4" y1="196.1" x2="498.6" y2="196.1" stroke="#333" stroke-width="0.9"/>
<line x1="497.5" y1="243.5" x2="497.5" y2="245.3" stroke="#333" stroke-width="0.8"/>
<rect x="469.3" y="167.2" width="13.7" height="76.6" fill="#000"/>
<rect x="491.1" y="205.9" width="12.8" height="37.6" fill="#d0d0d0" stroke="#222" stroke-width="0.8"/>
<text transform="translate(422.5 193) rotate(-90)" text-anchor="middle" class="t">GM-CSF (pg/mL)</text>
<rect x="334.6" y="260" width="64.6" height="99.0" fill="#fff" stroke="#4a4a4a" stroke-width="0.8"/>
<line x1="332.8" y1="359.00" x2="334.6" y2="359.00" stroke="#4a4a4a" stroke-width="0.7"/>
<line x1="333.70000000000005" y1="344.80" x2="335.1" y2="344.80" stroke="#4a4a4a" stroke-width="0.7"/>
<line x1="332.8" y1="330.59" x2="334.6" y2="330.59" stroke="#4a4a4a" stroke-width="0.7"/>
<line x1="333.70000000000005" y1="316.39" x2="335.1" y2="316.39" stroke="#4a4a4a" stroke-width="0.7"/>
<line x1="332.8" y1="302.19" x2="334.6" y2="302.19" stroke="#4a4a4a" stroke-width="0.7"/>
<line x1="333.70000000000005" y1="287.98" x2="335.1" y2="287.98" stroke="#4a4a4a" stroke-width="0.7"/>
<line x1="332.8" y1="273.78" x2="334.6" y2="273.78" stroke="#4a4a4a" stroke-width="0.7"/>
<text x="330.9" y="362.8" text-anchor="end" class="t">0</text>
<text x="331.4" y="334.4" text-anchor="end" class="t">200</text>
<text x="331.4" y="306.0" text-anchor="end" class="t">400</text>
<text x="331.4" y="277.6" text-anchor="end" class="t">600</text>
<line x1="356.2" y1="283.2" x2="356.2" y2="273.4" stroke="#333" stroke-width="0.8"/>
<line x1="355.1" y1="273.7" x2="357.3" y2="273.7" stroke="#333" stroke-width="0.9"/>
<line x1="356.2" y1="359" x2="356.2" y2="360.8" stroke="#333" stroke-width="0.8"/>
<line x1="377.5" y1="327.5" x2="377.5" y2="319.1" stroke="#333" stroke-width="0.8"/>
<line x1="376.4" y1="319.4" x2="378.6" y2="319.4" stroke="#333" stroke-width="0.9"/>
<line x1="377.5" y1="359" x2="377.5" y2="360.8" stroke="#333" stroke-width="0.8"/>
<rect x="349.3" y="283.2" width="13.7" height="76.1" fill="#000"/>
<rect x="371.1" y="327.9" width="12.8" height="31.1" fill="#d0d0d0" stroke="#222" stroke-width="0.8"/>
<text transform="translate(303.2 311.2) rotate(-90)" text-anchor="middle" class="t" textLength="77.6" lengthAdjust="spacing">IL-17 (pg/mL)</text>
<rect x="454.6" y="260.2" width="63.5" height="98.8" fill="#fff" stroke="#4a4a4a" stroke-width="0.8"/>
<line x1="452.8" y1="359.00" x2="454.6" y2="359.00" stroke="#4a4a4a" stroke-width="0.7"/>
<line x1="453.70000000000005" y1="342.53" x2="455.1" y2="342.53" stroke="#4a4a4a" stroke-width="0.7"/>
<line x1="452.8" y1="326.07" x2="454.6" y2="326.07" stroke="#4a4a4a" stroke-width="0.7"/>
<line x1="453.70000000000005" y1="309.60" x2="455.1" y2="309.60" stroke="#4a4a4a" stroke-width="0.7"/>
<line x1="452.8" y1="293.13" x2="454.6" y2="293.13" stroke="#4a4a4a" stroke-width="0.7"/>
<line x1="453.70000000000005" y1="276.67" x2="455.1" y2="276.67" stroke="#4a4a4a" stroke-width="0.7"/>
<line x1="452.8" y1="260.20" x2="454.6" y2="260.20" stroke="#4a4a4a" stroke-width="0.7"/>
<text x="450.3" y="362.8" text-anchor="end" class="t">0</text>
<text x="450.8" y="329.9" text-anchor="end" class="t">200</text>
<text x="450.8" y="296.9" text-anchor="end" class="t">400</text>
<text x="450.8" y="264.8" text-anchor="end" class="t">600</text>
<line x1="476.2" y1="283.7" x2="476.2" y2="276.0" stroke="#333" stroke-width="0.8"/>
<line x1="475.1" y1="276.3" x2="477.3" y2="276.3" stroke="#333" stroke-width="0.9"/>
<line x1="476.2" y1="359" x2="476.2" y2="360.8" stroke="#333" stroke-width="0.8"/>
<line x1="497.5" y1="317.1" x2="497.5" y2="314.4" stroke="#333" stroke-width="0.8"/>
<line x1="496.4" y1="314.7" x2="498.6" y2="314.7" stroke="#333" stroke-width="0.9"/>
<line x1="497.5" y1="359" x2="497.5" y2="360.8" stroke="#333" stroke-width="0.8"/>
<rect x="469.3" y="283.7" width="13.7" height="75.6" fill="#000"/>
<rect x="491.1" y="317.5" width="12.8" height="41.5" fill="#d0d0d0" stroke="#222" stroke-width="0.8"/>
<text transform="translate(422.5 310.4) rotate(-90)" text-anchor="middle" class="t" textLength="82.6" lengthAdjust="spacing">IL-1-β (pg/mL)</text>
<rect x="334.6" y="377.5" width="64.6" height="99.5" fill="#fff" stroke="#4a4a4a" stroke-width="0.8"/>
<line x1="332.8" y1="477.00" x2="334.6" y2="477.00" stroke="#4a4a4a" stroke-width="0.7"/>
<line x1="333.70000000000005" y1="465.94" x2="335.1" y2="465.94" stroke="#4a4a4a" stroke-width="0.7"/>
<line x1="333.70000000000005" y1="454.89" x2="335.1" y2="454.89" stroke="#4a4a4a" stroke-width="0.7"/>
<line x1="332.8" y1="443.83" x2="334.6" y2="443.83" stroke="#4a4a4a" stroke-width="0.7"/>
<line x1="333.70000000000005" y1="432.78" x2="335.1" y2="432.78" stroke="#4a4a4a" stroke-width="0.7"/>
<line x1="333.70000000000005" y1="421.72" x2="335.1" y2="421.72" stroke="#4a4a4a" stroke-width="0.7"/>
<line x1="332.8" y1="410.67" x2="334.6" y2="410.67" stroke="#4a4a4a" stroke-width="0.7"/>
<line x1="333.70000000000005" y1="399.61" x2="335.1" y2="399.61" stroke="#4a4a4a" stroke-width="0.7"/>
<line x1="333.70000000000005" y1="388.56" x2="335.1" y2="388.56" stroke="#4a4a4a" stroke-width="0.7"/>
<line x1="332.8" y1="377.50" x2="334.6" y2="377.50" stroke="#4a4a4a" stroke-width="0.7"/>
<text x="330.9" y="480.8" text-anchor="end" class="t">0</text>
<text x="331.4" y="447.6" text-anchor="end" class="t">60</text>
<text x="331.4" y="414.5" text-anchor="end" class="t">120</text>
<text x="331.4" y="382.2" text-anchor="end" class="t">180</text>
<line x1="356.2" y1="394.6" x2="356.2" y2="386.3" stroke="#333" stroke-width="0.8"/>
<line x1="355.1" y1="386.6" x2="357.3" y2="386.6" stroke="#333" stroke-width="0.9"/>
<line x1="356.2" y1="477" x2="356.2" y2="478.8" stroke="#333" stroke-width="0.8"/>
<line x1="377.5" y1="442.5" x2="377.5" y2="432.5" stroke="#333" stroke-width="0.8"/>
<line x1="376.4" y1="432.8" x2="378.6" y2="432.8" stroke="#333" stroke-width="0.9"/>
<line x1="377.5" y1="477" x2="377.5" y2="478.8" stroke="#333" stroke-width="0.8"/>
<rect x="349.3" y="394.6" width="13.7" height="82.7" fill="#000"/>
<rect x="371.1" y="442.9" width="12.8" height="34.1" fill="#d0d0d0" stroke="#222" stroke-width="0.8"/>
<text transform="translate(306 425.3) rotate(-90)" text-anchor="middle" class="t" textLength="97.3" lengthAdjust="spacing">IL-12p70 (pg/mL)</text>
<rect x="455" y="380" width="63.1" height="99.5" fill="#fff" stroke="#4a4a4a" stroke-width="0.8"/>
<line x1="453.2" y1="479.50" x2="455" y2="479.50" stroke="#4a4a4a" stroke-width="0.7"/>
<line x1="454.1" y1="465.31" x2="455.5" y2="465.31" stroke="#4a4a4a" stroke-width="0.7"/>
<line x1="453.2" y1="451.11" x2="455" y2="451.11" stroke="#4a4a4a" stroke-width="0.7"/>
<line x1="454.1" y1="436.92" x2="455.5" y2="436.92" stroke="#4a4a4a" stroke-width="0.7"/>
<line x1="453.2" y1="422.72" x2="455" y2="422.72" stroke="#4a4a4a" stroke-width="0.7"/>
<line x1="454.1" y1="408.53" x2="455.5" y2="408.53" stroke="#4a4a4a" stroke-width="0.7"/>
<line x1="453.2" y1="394.34" x2="455" y2="394.34" stroke="#4a4a4a" stroke-width="0.7"/>
<line x1="454.1" y1="380.14" x2="455.5" y2="380.14" stroke="#4a4a4a" stroke-width="0.7"/>
<text x="450.9" y="483.3" text-anchor="end" class="t">0</text>
<text x="451.4" y="454.9" text-anchor="end" class="t">100</text>
<text x="451.4" y="426.5" text-anchor="end" class="t">200</text>
<text x="451.4" y="398.1" text-anchor="end" class="t">300</text>
<line x1="476.6" y1="401.7" x2="476.6" y2="388.2" stroke="#333" stroke-width="0.8"/>
<line x1="475.4" y1="388.5" x2="477.7" y2="388.5" stroke="#333" stroke-width="0.9"/>
<line x1="476.6" y1="479.5" x2="476.6" y2="481.3" stroke="#333" stroke-width="0.8"/>
<line x1="497.9" y1="431.7" x2="497.9" y2="426.6" stroke="#333" stroke-width="0.8"/>
<line x1="496.8" y1="426.9" x2="499.0" y2="426.9" stroke="#333" stroke-width="0.9"/>
<line x1="497.9" y1="479.5" x2="497.9" y2="481.3" stroke="#333" stroke-width="0.8"/>
<rect x="469.7" y="401.7" width="13.7" height="78.1" fill="#000"/>
<rect x="491.5" y="432.1" width="12.8" height="47.4" fill="#d0d0d0" stroke="#222" stroke-width="0.8"/>
<text transform="translate(422.5 431) rotate(-90)" text-anchor="middle" class="t">IL-12p40 (pg/mL)</text>
<text transform="translate(358.7 484.5) rotate(-45)" text-anchor="end" class="t">Sham</text>
<text transform="translate(384.2 485) rotate(-41)" text-anchor="end" class="t">Ghrelin</text>
<text transform="translate(478 487.3) rotate(-45)" text-anchor="end" class="t">Sham</text>
<text transform="translate(503.5 488.3) rotate(-39)" text-anchor="end" class="t">Ghrelin</text>
</svg>
</body></html>
